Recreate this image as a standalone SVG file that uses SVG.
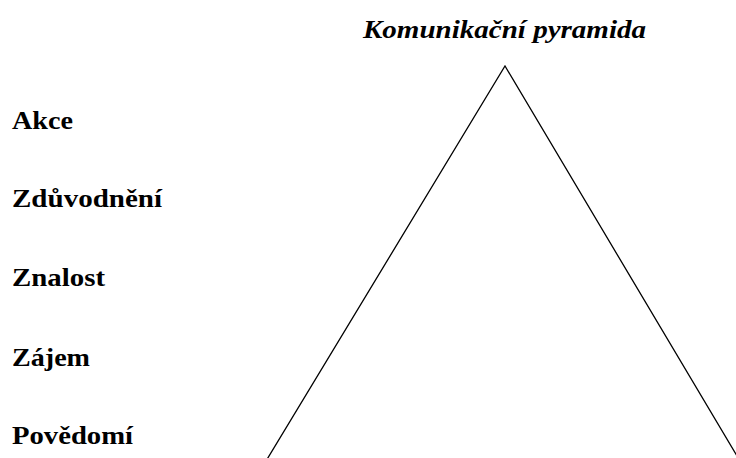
<svg xmlns="http://www.w3.org/2000/svg" width="736" height="458" viewBox="0 0 736 458">
<style>
.lbl{font-family:"Liberation Serif","Times New Roman",serif;font-weight:bold;font-size:26px;fill:#000}
.ttl{font-family:"Liberation Serif","Times New Roman",serif;font-weight:bold;font-style:italic;font-size:26px;fill:#000}
.edge{fill:none;stroke:#000;stroke-width:1.3}
</style>
<rect width="736" height="458" fill="#fff"/>
<g id="title"><text class="ttl" x="363" y="38" textLength="283" lengthAdjust="spacingAndGlyphs">Komunikační pyramida</text></g>
<g id="connectors"><polyline class="edge" points="266,461 505,66 740,461"/></g>
<g id="akce"><text class="lbl" x="12" y="129" textLength="61" lengthAdjust="spacingAndGlyphs">Akce</text></g>
<g id="zduvodneni"><text class="lbl" x="12" y="207" textLength="150" lengthAdjust="spacingAndGlyphs">Zdůvodnění</text></g>
<g id="znalost"><text class="lbl" x="12" y="286" textLength="93" lengthAdjust="spacingAndGlyphs">Znalost</text></g>
<g id="zajem"><text class="lbl" x="12" y="366" textLength="78" lengthAdjust="spacingAndGlyphs">Zájem</text></g>
<g id="povedomi"><text class="lbl" x="12" y="444" textLength="121" lengthAdjust="spacingAndGlyphs">Povědomí</text></g>
</svg>
